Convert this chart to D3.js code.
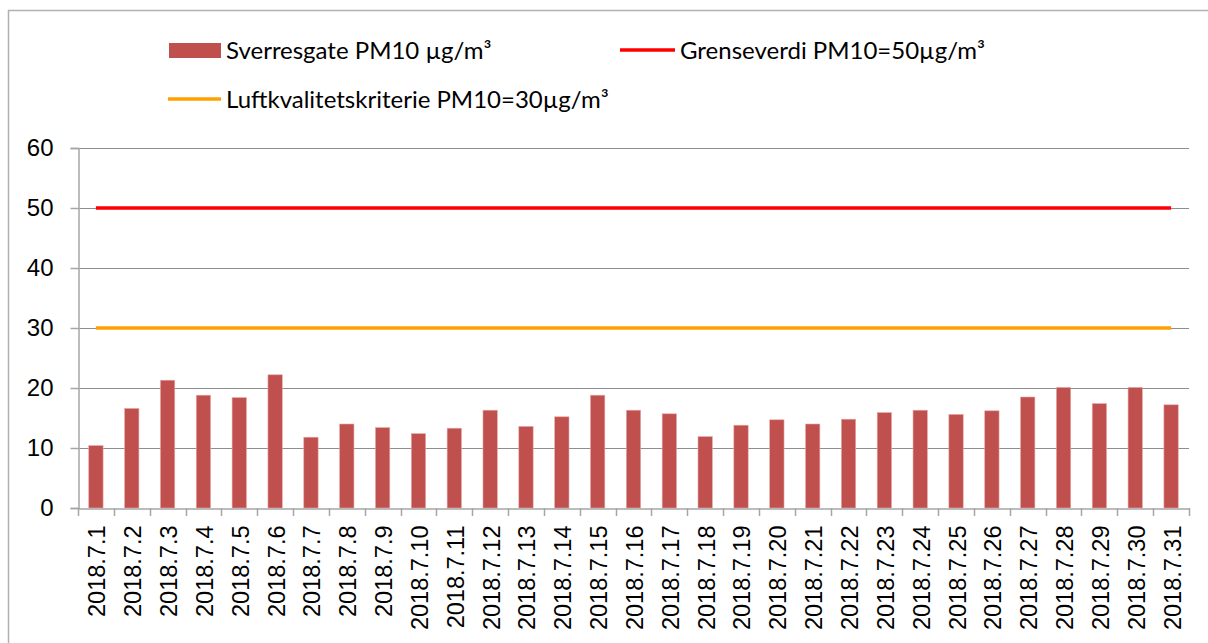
<!DOCTYPE html>
<html>
<head>
<meta charset="utf-8">
<script src="https://cdn.jsdelivr.net/npm/d3@7"></script>
<style>
  html, body { margin: 0; padding: 0; background: #fff; }
  svg { display: block; }
</style>
</head>
<body>
<svg id="chart" width="1208" height="643"></svg>
<script>
const categories = ["2018.7.1","2018.7.2","2018.7.3","2018.7.4","2018.7.5","2018.7.6","2018.7.7","2018.7.8","2018.7.9","2018.7.10","2018.7.11","2018.7.12","2018.7.13","2018.7.14","2018.7.15","2018.7.16","2018.7.17","2018.7.18","2018.7.19","2018.7.20","2018.7.21","2018.7.22","2018.7.23","2018.7.24","2018.7.25","2018.7.26","2018.7.27","2018.7.28","2018.7.29","2018.7.30","2018.7.31"];
const pm10 = [10.4,16.6,21.3,18.8,18.4,22.2,11.8,14.0,13.4,12.4,13.3,16.3,13.6,15.2,18.8,16.3,15.7,11.9,13.8,14.7,14.0,14.8,15.9,16.3,15.6,16.2,18.5,20.1,17.4,20.1,17.2];
const grenseverdi = 50;
const luftkvalitet = 30;
const yTicks = [0,10,20,30,40,50,60];
const seriesNames = ["Sverresgate PM10 µg/m³","Grenseverdi PM10=50µg/m³","Luftkvalitetskriterie PM10=30µg/m³"];

const svg = d3.select("#chart");
const mLeft = 78, mRight = 1189, mTop = 148, mBottom = 508;

// outer border
svg.append("rect").attr("x", 8.5).attr("y", 10.5).attr("width", 1300).attr("height", 700)
  .attr("fill", "none").attr("stroke", "#b0b0b0").attr("stroke-width", 1.5);

const x = d3.scaleBand().domain(categories).range([mLeft, mRight]).paddingInner(0.6).paddingOuter(0.3);
const xb = d3.scaleBand().domain(categories).range([mLeft, mRight]).padding(0);
const y = d3.scaleLinear().domain([0, 60]).range([mBottom, mTop]);

// gridlines
svg.append("g").selectAll("line").data(yTicks.filter(d => d > 0)).join("line")
  .attr("x1", mLeft).attr("x2", mRight)
  .attr("y1", d => Math.round(y(d)) + 0.5).attr("y2", d => Math.round(y(d)) + 0.5)
  .attr("stroke", "#8e8e8e").attr("stroke-width", 1.2);

// y axis
const yAxis = d3.axisLeft(y).tickValues(yTicks).tickSize(8).tickPadding(17).tickFormat(d3.format("d"));
const gy = svg.append("g").attr("transform", `translate(${mLeft + 0.5},0)`).call(yAxis);
gy.select(".domain").attr("stroke", "#a6a6a6").attr("stroke-width", 1.5);
gy.selectAll(".tick line").attr("stroke", "#a6a6a6").attr("stroke-width", 1.5);
gy.selectAll(".tick text").attr("font-family", "'Liberation Sans', Arial, sans-serif")
  .attr("font-size", 24).attr("fill", "#000");

// bars
svg.append("g").selectAll("rect").data(pm10).join("rect")
  .attr("x", (d, i) => x(categories[i]))
  .attr("width", x.bandwidth())
  .attr("y", d => y(d))
  .attr("height", d => y(0) - y(d))
  .attr("fill", "#c0504d")
  .attr("stroke", "#e6a9a8").attr("stroke-width", 0.6);

// x axis
const xAxis = d3.axisBottom(xb).tickSize(0).tickFormat(d => d);
const gx = svg.append("g").attr("transform", `translate(0,${mBottom + 0.5})`).call(xAxis);
gx.select(".domain").attr("stroke", "#a6a6a6").attr("stroke-width", 1.5);
gx.selectAll(".tick text")
  .attr("font-family", "'Liberation Sans', Arial, sans-serif")
  .attr("font-size", 23.5).attr("fill", "#000")
  .attr("text-anchor", "end")
  .attr("transform", "translate(1,17) rotate(-90)")
  .attr("x", 0).attr("y", 0).attr("dy", "0.36em");
// boundary ticks
const bounds = categories.map(c => xb(c)).concat([mRight]);
svg.append("g").selectAll("line").data(bounds).join("line")
  .attr("x1", d => Math.round(d) + 0.5).attr("x2", d => Math.round(d) + 0.5)
  .attr("y1", mBottom).attr("y2", mBottom + 8)
  .attr("stroke", "#a6a6a6").attr("stroke-width", 1.5);

// threshold lines
const first = xb(categories[0]) + xb.bandwidth() / 2;
const last = xb(categories[categories.length - 1]) + xb.bandwidth() / 2;
svg.append("line").attr("x1", first).attr("x2", last)
  .attr("y1", y(grenseverdi)).attr("y2", y(grenseverdi))
  .attr("stroke", "#ff0000").attr("stroke-width", 3.5);
svg.append("line").attr("x1", first).attr("x2", last)
  .attr("y1", y(luftkvalitet)).attr("y2", y(luftkvalitet))
  .attr("stroke", "#ffa000").attr("stroke-width", 3.5);

// legend
const lf = "Lato, 'Open Sans', sans-serif";
const lg = svg.append("g");
lg.append("rect").attr("x", 169).attr("y", 43).attr("width", 52).attr("height", 15).attr("fill", "#c0504d");
lg.append("text").attr("x", 226).attr("y", 59).text(seriesNames[0])
  .attr("font-family", lf).attr("font-size", 24).attr("fill", "#000");
lg.append("line").attr("x1", 620).attr("x2", 675).attr("y1", 50).attr("y2", 50)
  .attr("stroke", "#ff0000").attr("stroke-width", 3.5);
lg.append("text").attr("x", 680).attr("y", 59).text(seriesNames[1])
  .attr("font-family", lf).attr("font-size", 24).attr("fill", "#000");
lg.append("line").attr("x1", 168).attr("x2", 221).attr("y1", 99).attr("y2", 99)
  .attr("stroke", "#ffa000").attr("stroke-width", 3.5);
lg.append("text").attr("x", 226).attr("y", 108).text(seriesNames[2])
  .attr("font-family", lf).attr("font-size", 24).attr("fill", "#000");
</script>
</body>
</html>
